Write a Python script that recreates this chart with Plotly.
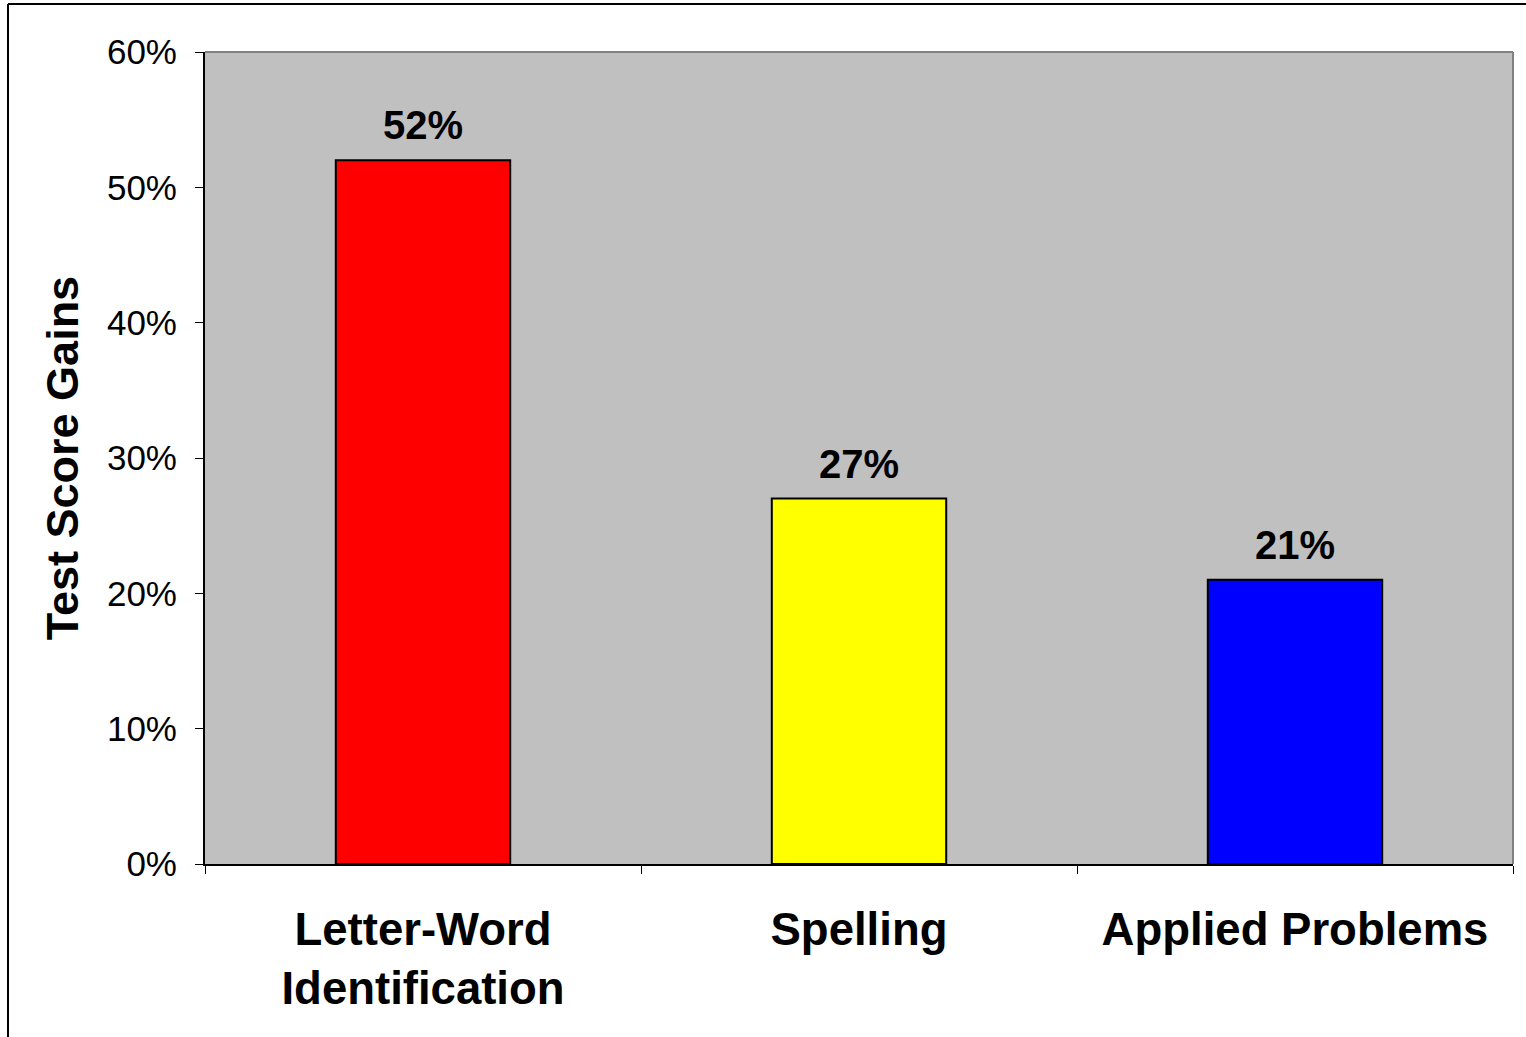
import plotly.graph_objects as go

categories = ["Letter-Word<br>Identification", "Spelling", "Applied Problems"]
values = [0.52, 0.27, 0.21]
labels = ["52%", "27%", "21%"]
colors = ["#FF0000", "#FFFF00", "#0000FF"]
ytick_vals = [0, 0.1, 0.2, 0.3, 0.4, 0.5, 0.6]
ytick_text = ["0%", "10%", "20%", "30%", "40%", "50%", "60%"]

xpos = list(range(len(categories)))

fig = go.Figure()
fig.add_trace(go.Bar(
    x=xpos, y=values, width=0.4,
    marker=dict(color=colors, line=dict(color="black", width=2)),
    showlegend=False, hoverinfo="skip",
))
# invisible trace for category labels axis
fig.add_trace(go.Scatter(x=xpos, y=[0]*len(xpos), xaxis="x2", mode="markers",
                         marker=dict(opacity=0), showlegend=False, hoverinfo="skip"))

for xi, v, t in zip(xpos, values, labels):
    fig.add_annotation(x=xi, y=v, text="<b>%s</b>" % t, showarrow=False,
                       yanchor="bottom", yshift=11,
                       font=dict(family="Liberation Sans, Arial", size=40, color="black"))

W, H = 1526, 1037
L, R, T, B = 205, 13, 52, 173
pw, ph = W - L - R, H - T - B

def px(x):
    return (x - L) / pw

def py(y):
    return (H - B - y) / ph

fig.update_layout(
    width=W, height=H,
    margin=dict(l=L, r=R, t=T, b=B),
    paper_bgcolor="white", plot_bgcolor="#C0C0C0",
    font=dict(family="Liberation Sans, Arial", color="black"),
    xaxis=dict(range=[-0.5, 2.5], tickvals=[-0.5, 0.5, 1.5, 2.5], ticktext=["", "", "", ""],
               ticks="outside", ticklen=8, tickcolor="black", tickwidth=1,
               showline=True, linecolor="black", linewidth=2, showgrid=False,
               zeroline=False, fixedrange=True),
    xaxis2=dict(range=[-0.5, 2.5], overlaying="x", side="bottom", tickvals=xpos,
                ticktext=["<b>%s</b>" % c for c in categories], ticks="",
                tickfont=dict(size=45.5, family="Liberation Sans, Arial", color="black"),
                showline=False, showgrid=False, zeroline=False, ticklabelstandoff=34),
    yaxis=dict(range=[0, 0.6], tickvals=ytick_vals, ticktext=ytick_text,
               ticks="outside", ticklen=8, tickcolor="black", tickwidth=1,
               tickfont=dict(size=35, family="Liberation Sans, Arial", color="black"),
               ticklabelstandoff=11,
               showline=True, linecolor="black", linewidth=2, showgrid=False,
               zeroline=False,
               title=dict(text="<b>Test Score Gains</b>", standoff=14,
                          font=dict(size=45, family="Liberation Sans, Arial", color="black"))),
    bargap=0.6,
    shapes=[
        # plot area top & right gray border
        dict(type="line", xref="paper", yref="paper", x0=0, x1=1, y0=1, y1=1,
             line=dict(color="#808080", width=2)),
        dict(type="line", xref="paper", yref="paper", x0=1, x1=1, y0=0, y1=1,
             line=dict(color="#808080", width=2)),
        # outer frame (top and left)
        dict(type="line", xref="paper", yref="paper", x0=px(8), x1=px(1526), y0=py(4), y1=py(4),
             line=dict(color="black", width=2)),
        dict(type="line", xref="paper", yref="paper", x0=px(8), x1=px(8), y0=py(4), y1=py(1037),
             line=dict(color="black", width=2)),
    ],
)

fig.write_html("out.html", config={"displayModeBar": False},
               post_script="document.body.style.margin='0px';")
